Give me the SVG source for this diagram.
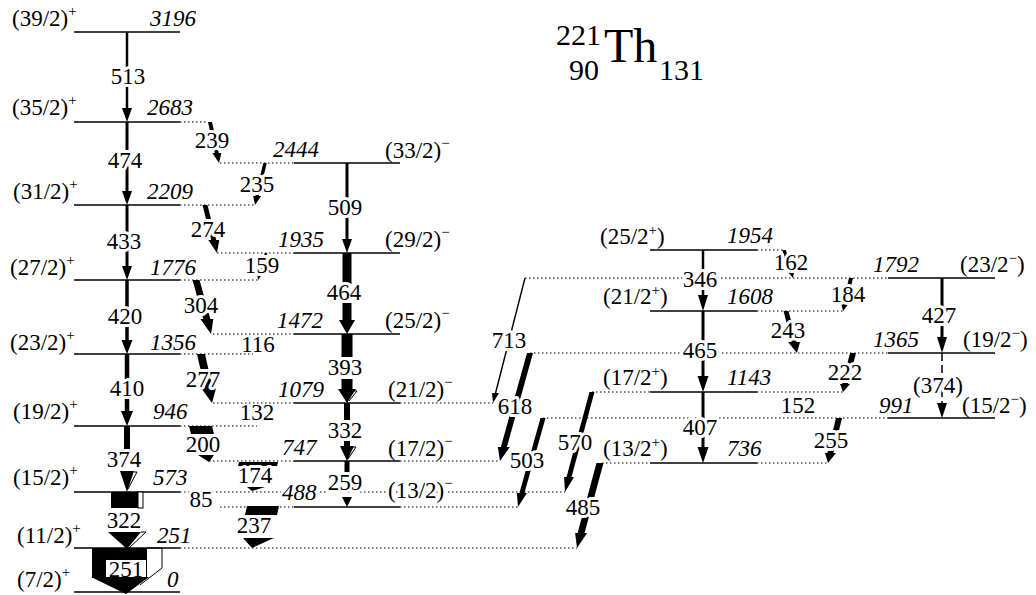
<svg xmlns="http://www.w3.org/2000/svg" width="1036" height="595" viewBox="0 0 1036 595">
<style>
text{font-family:"Liberation Serif","Times New Roman",serif;font-size:23px;fill:#000}
.e{font-style:italic}
.tl{text-anchor:middle;stroke:#fff;stroke-width:6;stroke-linejoin:round;paint-order:stroke}
.tn{text-anchor:middle}
.hl{stroke:#fff;stroke-width:6;stroke-linejoin:round;paint-order:stroke}
.lv{stroke:#000;stroke-width:1.3}
.dt{stroke:#000;stroke-width:1.2;stroke-dasharray:1.5 2.5}
.sup{font-size:15px}
.ln{stroke:#000}
.ol{fill:#fff;stroke:#000;stroke-width:1}
polygon,rect{fill:#000}
</style>
<rect x="0" y="0" width="1036" height="595" fill="#fff" style="fill:#fff"/>

<g id="title">
<text x="601" y="45" font-size="30" text-anchor="end" style="font-size:30px">221</text>
<text x="599" y="80" font-size="30" text-anchor="end" style="font-size:30px">90</text>
<text x="604" y="62" style="font-size:48px">Th</text>
<text x="659" y="80" style="font-size:30px">131</text>
</g>

<!-- Band 1 levels -->
<g id="L3196"><line class="lv" x1="74" y1="32" x2="180" y2="32"/><text x="12" y="26">(39/2)<tspan class="sup" dy="-10">+</tspan></text><text class="e" x="150" y="26">3196</text></g>
<g id="L2683"><line class="lv" x1="74" y1="122" x2="180" y2="122"/><line class="dt" x1="180" y1="122" x2="208" y2="122"/><text x="12" y="115">(35/2)<tspan class="sup" dy="-10">+</tspan></text><text class="e" x="147" y="115">2683</text></g>
<g id="L2209"><line class="lv" x1="74" y1="205" x2="180" y2="205"/><line class="dt" x1="180" y1="205" x2="256" y2="205"/><text x="13" y="199">(31/2)<tspan class="sup" dy="-10">+</tspan></text><text class="e" x="147" y="199">2209</text></g>
<g id="L1776"><line class="lv" x1="74" y1="280" x2="180" y2="280"/><line class="dt" x1="180" y1="280" x2="258" y2="280"/><text x="10" y="275">(27/2)<tspan class="sup" dy="-10">+</tspan></text><text class="e" x="150" y="275">1776</text></g>
<g id="L1356"><line class="lv" x1="74" y1="354" x2="180" y2="354"/><line class="dt" x1="180" y1="354" x2="253" y2="354"/><text x="10" y="350">(23/2)<tspan class="sup" dy="-10">+</tspan></text><text class="e" x="150" y="350">1356</text></g>
<g id="L946"><line class="lv" x1="74" y1="426" x2="180" y2="426"/><line class="dt" x1="180" y1="426" x2="257" y2="426"/><text x="13" y="419">(19/2)<tspan class="sup" dy="-10">+</tspan></text><text class="e" x="153" y="419">946</text></g>
<g id="L573"><line class="lv" x1="74" y1="492" x2="180" y2="492"/><line class="dt" x1="180" y1="492" x2="565" y2="492"/><text x="13" y="485">(15/2)<tspan class="sup" dy="-10">+</tspan></text><text class="e" x="153" y="485">573</text></g>
<g id="L251"><line class="lv" x1="74" y1="548" x2="180" y2="548"/><line class="dt" x1="180" y1="548" x2="577" y2="548"/><text x="17" y="543">(11/2)<tspan class="sup" dy="-10">+</tspan></text><text class="e" x="157" y="543">251</text></g>
<g id="L0"><line class="lv" x1="74" y1="592" x2="180" y2="592"/><text x="17" y="587">(7/2)<tspan class="sup" dy="-10">+</tspan></text><text class="e" x="167" y="587">0</text></g>

<!-- Band 2 levels -->
<g id="L2444"><line class="lv" x1="294" y1="163" x2="400" y2="163"/><line class="dt" x1="220" y1="163" x2="294" y2="163"/><text class="e" x="273" y="157">2444</text><text x="385" y="158">(33/2)<tspan class="sup" dy="-10">−</tspan></text></g>
<g id="L1935"><line class="lv" x1="294" y1="253" x2="400" y2="253"/><line class="dt" x1="217" y1="253" x2="294" y2="253"/><text class="e" x="278" y="247">1935</text><text x="385" y="247">(29/2)<tspan class="sup" dy="-10">−</tspan></text></g>
<g id="L1472"><line class="lv" x1="294" y1="334" x2="400" y2="334"/><line class="dt" x1="213" y1="334" x2="294" y2="334"/><text class="e" x="277" y="328">1472</text><text x="385" y="328">(25/2)<tspan class="sup" dy="-10">−</tspan></text></g>
<g id="L1079"><line class="lv" x1="294" y1="403" x2="400" y2="403"/><line class="dt" x1="213" y1="403" x2="294" y2="403"/><line class="dt" x1="400" y1="403" x2="493" y2="403"/><text class="e" x="278" y="397">1079</text><text x="388" y="397">(21/2)<tspan class="sup" dy="-10">−</tspan></text></g>
<g id="L747"><line class="lv" x1="294" y1="461" x2="400" y2="461"/><line class="dt" x1="209" y1="461" x2="294" y2="461"/><line class="dt" x1="400" y1="461" x2="500" y2="461"/><text class="e" x="282" y="455">747</text><text x="388" y="456">(17/2)<tspan class="sup" dy="-10">−</tspan></text></g>
<g id="L488"><line class="lv" x1="294" y1="507" x2="400" y2="507"/><line class="dt" x1="220" y1="507" x2="294" y2="507"/><line class="dt" x1="400" y1="507" x2="518" y2="507"/><text class="e hl" x="282" y="500">488</text><text class="hl" x="388" y="498">(13/2)<tspan class="sup" dy="-10">−</tspan></text></g>

<!-- Band 3 levels -->
<g id="L1954"><line class="lv" x1="650" y1="250" x2="757" y2="250"/><line class="dt" x1="757" y1="250" x2="784" y2="250"/><text x="600" y="244">(25/2<tspan class="sup" dy="-9">+</tspan><tspan dy="9">)</tspan></text><text class="e" x="727" y="243">1954</text></g>
<g id="L1608"><line class="lv" x1="650" y1="311" x2="757" y2="311"/><line class="dt" x1="757" y1="311" x2="845" y2="311"/><text x="603" y="304">(21/2<tspan class="sup" dy="-9">+</tspan><tspan dy="9">)</tspan></text><text class="e" x="727" y="304">1608</text></g>
<g id="L1143"><line class="lv" x1="650" y1="392" x2="757" y2="392"/><line class="dt" x1="592" y1="392" x2="650" y2="392"/><line class="dt" x1="757" y1="392" x2="843" y2="392"/><text x="603" y="385">(17/2<tspan class="sup" dy="-9">+</tspan><tspan dy="9">)</tspan></text><text class="e" x="727" y="385">1143</text></g>
<g id="L736"><line class="lv" x1="650" y1="463" x2="757" y2="463"/><line class="dt" x1="602" y1="463" x2="650" y2="463"/><line class="dt" x1="757" y1="463" x2="828" y2="463"/><text x="603" y="456">(13/2<tspan class="sup" dy="-9">+</tspan><tspan dy="9">)</tspan></text><text class="e" x="727" y="456">736</text></g>

<!-- Band 4 levels -->
<g id="L1792"><line class="lv" x1="888" y1="278" x2="995" y2="278"/><line class="dt" x1="525" y1="278" x2="888" y2="278"/><text class="e" x="873" y="272">1792</text><text x="960" y="272">(23/2<tspan class="sup" dy="-9">−</tspan><tspan dy="9">)</tspan></text></g>
<g id="L1365"><line class="lv" x1="888" y1="353" x2="995" y2="353"/><line class="dt" x1="530" y1="353" x2="888" y2="353"/><text class="e" x="873" y="347">1365</text><text x="963" y="347">(19/2<tspan class="sup" dy="-9">−</tspan><tspan dy="9">)</tspan></text></g>
<g id="L991"><line class="lv" x1="888" y1="418" x2="995" y2="418"/><line class="dt" x1="543" y1="418" x2="888" y2="418"/><text class="e" x="879" y="413">991</text><text x="962" y="413">(15/2<tspan class="sup" dy="-9">−</tspan><tspan dy="9">)</tspan></text></g>

<!-- Transitions -->
<g id="connectors">
<!-- band 1 vertical -->
<line class="ln" x1="127" y1="32" x2="127" y2="109" stroke-width="2.5"/><polygon points="122,108 132,108 127,122"/>
<line class="ln" x1="127" y1="122" x2="127" y2="192" stroke-width="3"/><polygon points="122,191 132,191 127,205"/>
<line class="ln" x1="127" y1="205" x2="127" y2="267" stroke-width="3"/><polygon points="122,266 132,266 127,280"/>
<line class="ln" x1="127" y1="280" x2="127" y2="341" stroke-width="3.5"/><polygon points="121.5,340 132.5,340 127,354"/>
<line class="ln" x1="127" y1="354" x2="127" y2="412" stroke-width="4.5"/><polygon points="121,411 133,411 127,426"/>
<rect x="124" y="426" width="6" height="27"/><polygon points="120,471 134,471 127,492"/><polyline class="ol" style="fill:none" points="134,472 137,472 128,489"/>
<rect x="111" y="492" width="27" height="16"/><rect class="ol" x="138" y="492" width="5" height="16"/>
<polygon points="108,532 141,532 127,549"/><polyline class="ol" style="fill:none" points="141,532 146,532 129,548"/>
<rect x="92" y="548" width="55" height="30"/><rect x="106" y="560" width="40" height="17" style="fill:#fff"/>
<polygon points="91,577 149,577 126,594"/><polyline class="ol" style="fill:none" points="147,548 162,548 162,568 140,585"/>

<!-- band 2 vertical -->
<line class="ln" x1="347" y1="163" x2="347" y2="240" stroke-width="3"/><polygon points="342,239 352,239 347,253"/>
<rect x="342.5" y="253" width="9" height="31"/><rect x="342.5" y="303" width="9" height="18"/><polygon points="339,320 355,320 347,334"/>
<rect x="341.5" y="334" width="11" height="23"/><rect x="341.5" y="379" width="11" height="11"/><polygon points="338,389 356,389 347,403"/><polyline class="ol" style="fill:none" points="352,391 357,391 349,401"/>
<rect x="344" y="403" width="6" height="17"/><rect x="344" y="441" width="6" height="6"/><polygon points="340,446 354,446 347,461"/><polyline class="ol" style="fill:none" points="350,447 356,447 348,459"/>
<rect x="344.5" y="461" width="5" height="11"/><polygon points="342,497 352,497 347,507"/>

<!-- band 3 vertical -->
<line class="ln" x1="703" y1="250" x2="703" y2="296" stroke-width="2.5"/><polygon points="698,295 708,295 703,311"/>
<line class="ln" x1="703" y1="311" x2="703" y2="377" stroke-width="3"/><polygon points="697.5,376 708.5,376 703,392"/>
<line class="ln" x1="703" y1="392" x2="703" y2="448" stroke-width="3"/><polygon points="697.5,447 708.5,447 703,463"/>

<!-- band 4 vertical -->
<line class="ln" x1="942" y1="278" x2="942" y2="338" stroke-width="3"/><polygon points="937,337 947,337 942,353"/>
<line class="ln" x1="942" y1="353" x2="942" y2="404" stroke-width="1.5" stroke-dasharray="8 4"/><polygon points="937,403 947,403 942,418"/>

<!-- side transitions band1 <-> band2 -->
<g transform="matrix(1 0 0.22 1 210 122)"><rect x="-2" y="0" width="4" height="32"/><polygon points="-4.5,31 4.5,31 0,41"/></g>
<g transform="matrix(1 0 -0.238 1 265 163)"><rect x="-1.75" y="0" width="3.5" height="34"/><polygon points="-4,33 4,33 0,42"/></g>
<g transform="matrix(1 0 0.25 1 205 205)"><rect x="-2.5" y="0" width="5" height="36"/><polygon points="-5.5,35 5.5,35 0,48"/></g>
<g transform="matrix(1 0 -0.296 1 266 253)"><rect x="-1.25" y="0" width="2.5" height="22"/><polygon points="-2.5,21 2.5,21 0,27"/></g>
<g transform="matrix(1 0 0.278 1 196 280)"><rect x="-3.5" y="0" width="7" height="40"/><polygon points="-6.5,39 6.5,39 0,54"/></g>
<g transform="matrix(1 0 0.224 1 201 354)"><rect x="-4" y="0" width="8" height="35"/><polygon points="-7.5,34 7.5,34 0,49"/></g>
<polygon points="189,426 212,426 214,434 191,434"/><polygon points="198,455 214,455 209,462"/>
<polygon points="239,462 278,462 277,466 238,466"/><polygon points="247,487 265,487 252,491"/>
<polygon points="247,506 279,506 277,515 245,515"/><polygon points="243,538 274,538 252,548"/>

<!-- cross transitions -->
<g transform="matrix(1 0 -0.256 1 525 278)"><rect x="-0.75" y="0" width="1.5" height="116"/><polygon points="-3.5,115 3.5,115 0,125"/></g>
<g transform="matrix(1 0 -0.278 1 530 353)"><rect x="-3" y="0" width="6" height="95"/><polygon points="-6,94 6,94 0,108"/></g>
<g transform="matrix(1 0 -0.281 1 543 418)"><rect x="-2.5" y="0" width="5" height="76"/><polygon points="-5,75 5,75 0,89"/></g>
<g transform="matrix(1 0 -0.27 1 592 392)"><rect x="-2.5" y="0" width="5" height="86"/><polygon points="-5,85 5,85 0,100"/></g>
<g transform="matrix(1 0 -0.27 1 600 463)"><rect x="-3.5" y="0" width="7" height="71"/><polygon points="-6,70 6,70 0,85"/></g>

<!-- right side transitions -->
<g transform="matrix(1 0 0.32 1 784 250)"><rect x="-1.75" y="0" width="3.5" height="24"/><polygon points="-2.5,23 2.5,23 0,28"/></g>
<g transform="matrix(1 0 -0.24 1 851 278)"><rect x="-2" y="0" width="4" height="27"/><polygon points="-3.5,26 3.5,26 0,33"/></g>
<g transform="matrix(1 0 0.26 1 786 311)"><rect x="-2.5" y="0" width="5" height="32"/><polygon points="-6,31 6,31 0,42"/></g>
<g transform="matrix(1 0 -0.256 1 853 353)"><rect x="-3" y="0" width="6" height="32"/><polygon points="-5,31 5,31 0,39"/></g>
<g transform="matrix(1 0 -0.244 1 839 418)"><rect x="-3" y="0" width="6" height="36"/><polygon points="-5.5,35 5.5,35 0,45"/></g>

<!-- transition labels -->
<text class="tl" x="128" y="84">513</text>
<text class="tl" x="125" y="168">474</text>
<text class="tl" x="124" y="249">433</text>
<text class="tl" x="125" y="324">420</text>
<text class="tl" x="127" y="396">410</text>
<text class="tl" x="124" y="467">374</text>
<text class="tl" x="124" y="528">322</text>
<text class="tn" x="126" y="577">251</text>
<text class="tl" x="345" y="215">509</text>
<text class="tl" x="344" y="300">464</text>
<text class="tl" x="345" y="375">393</text>
<text class="tl" x="345" y="438">332</text>
<text class="tl" x="345" y="490">259</text>
<text class="tl" x="700" y="287">346</text>
<text class="tl" x="700" y="358">465</text>
<text class="tl" x="700" y="435">407</text>
<text class="tl" x="939" y="323">427</text>
<text class="tl" x="938" y="393">(374)</text>
<text class="tl" x="212" y="148">239</text>
<text class="tl" x="257" y="192">235</text>
<text class="tl" x="208" y="237">274</text>
<text class="tl" x="262" y="273">159</text>
<text class="tl" x="201" y="313">304</text>
<text class="tn" x="258" y="352">116</text>
<text class="tl" x="203" y="387">277</text>
<text class="tn" x="257" y="420">132</text>
<text class="tl" x="203" y="452">200</text>
<text class="tl" x="255" y="483">174</text>
<text class="tl" x="201" y="507">85</text>
<text class="tl" x="254" y="533">237</text>
<text class="tl" x="509" y="348">713</text>
<text class="tl" x="515" y="414">618</text>
<text class="tl" x="527" y="468">503</text>
<text class="tl" x="575" y="450">570</text>
<text class="tl" x="583" y="515">485</text>
<text class="tl" x="791" y="270">162</text>
<text class="tl" x="848" y="302">184</text>
<text class="tl" x="788" y="338">243</text>
<text class="tl" x="845" y="380">222</text>
<text class="tl" x="798" y="413">152</text>
<text class="tl" x="831" y="448">255</text>
</g>
</svg>
